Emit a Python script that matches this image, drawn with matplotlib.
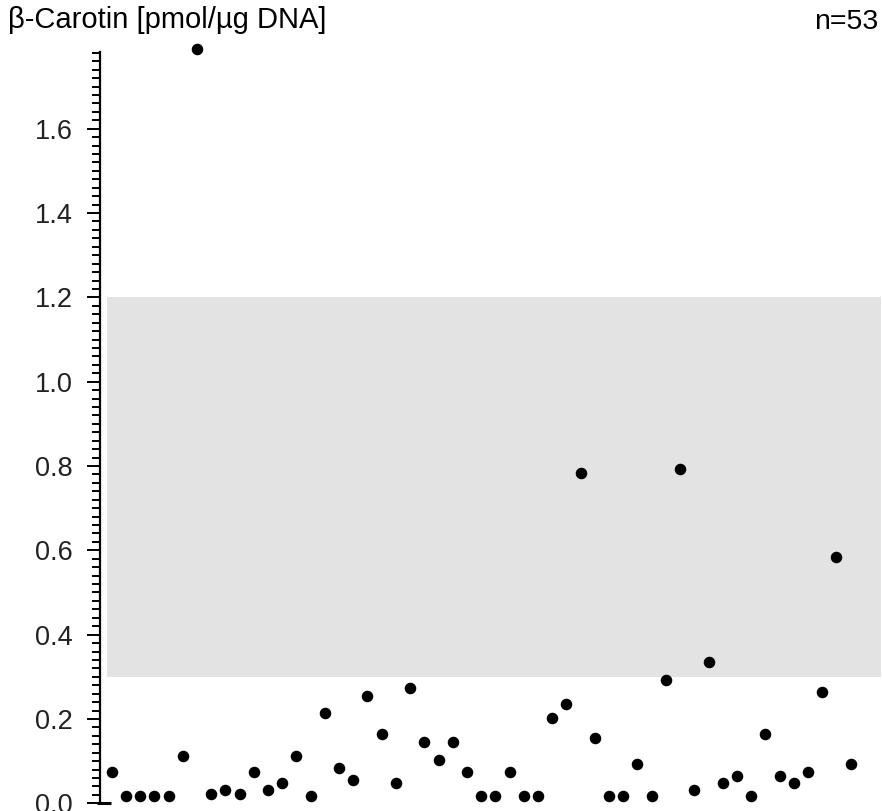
import numpy as np
import matplotlib
matplotlib.use('Agg')
import matplotlib.pyplot as plt
from matplotlib.ticker import MultipleLocator, FormatStrFormatter

# ── Data ──────────────────────────────────────────────────────────────
sample_no = np.arange(1, 54)
carotin = [0.075, 0.018, 0.018, 0.018, 0.018, 0.112, 1.79, 0.023, 0.032, 0.023,
           0.074, 0.032, 0.047, 0.112, 0.018, 0.213, 0.084, 0.056, 0.255, 0.164,
           0.047, 0.273, 0.146, 0.103, 0.146, 0.075, 0.018, 0.018, 0.075, 0.018,
           0.018, 0.202, 0.236, 0.784, 0.155, 0.018, 0.018, 0.094, 0.018, 0.292,
           0.794, 0.032, 0.334, 0.047, 0.065, 0.018, 0.164, 0.065, 0.047, 0.074,
           0.264, 0.585, 0.094]
ref_low, ref_high = 0.3, 1.2
y_ticks = [0.0, 0.2, 0.4, 0.6, 0.8, 1.0, 1.2, 1.4, 1.6]

plt.rcParams['font.family'] = ['Liberation Sans', 'DejaVu Sans']

W, H = 882, 811
fig = plt.figure(figsize=(W / 100, H / 100), dpi=100)
fig.patch.set_facecolor('white')

# axes box in pixel terms: left spine at x=100, right edge 881, y from 52 to 803
left, right, top, bottom = 100, 881, 52, 803.3
ax = fig.add_axes([left / W, (H - bottom) / H, (right - left) / W, (bottom - top) / H])

step = 14.21
first = 111.7
ax.set_xlim(1 - (first - left) / step, 1 + (right - first) / step)
ax.set_ylim(0, 1.782)

# reference range band
ax.axhspan(ref_low, ref_high, xmin=(107 - left) / (right - left), xmax=1,
           color='#e3e3e3', lw=0, zorder=0)

ax.plot(sample_no, carotin, 'o', color='black', markersize=7.3,
        clip_on=False, zorder=3)

for s in ['top', 'right', 'bottom']:
    ax.spines[s].set_visible(False)
ax.spines['left'].set_linewidth(1.6)

# x axis line, drawn a little past the y spine
ax.plot([(87 - left) / (right - left), (853 - left) / (right - left)], [0, 0],
        transform=ax.get_xaxis_transform(), color='black', lw=2.2,
        clip_on=False, solid_capstyle='butt', zorder=4)

ax.set_xticks([])
ax.set_yticks(y_ticks)
ax.yaxis.set_major_formatter(FormatStrFormatter('%.1f'))
ax.yaxis.set_minor_locator(MultipleLocator(0.02))
ax.tick_params(axis='y', which='major', length=9.5, width=1.4, pad=10,
               labelsize=19.5, labelcolor='#222222')
ax.tick_params(axis='y', which='minor', length=5.5, width=1.4)

fig.text(8 / W, 1 - 27.5 / H, 'β-Carotin [pmol/µg DNA]', ha='left',
         va='baseline', fontsize=21)
fig.text(878 / W, 1 - 29 / H, 'n=53', ha='right', va='baseline', fontsize=20.5)

fig.savefig('out.png', dpi=100, facecolor='white')
